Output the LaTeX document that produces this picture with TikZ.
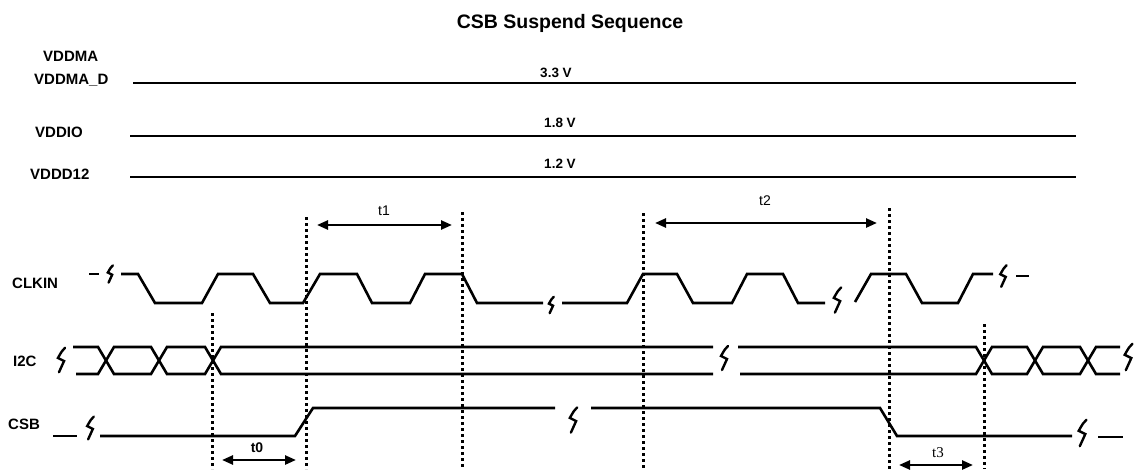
\documentclass[tikz,border=0pt]{standalone}
\usepackage{fontspec}
\setmainfont{Liberation Sans}
\newfontfamily\seriff{Liberation Serif}
\usetikzlibrary{arrows.meta}
\begin{document}
\begin{tikzpicture}[x=1pt,y=-1pt,
  rail/.style={line width=2.8pt},
  sig/.style={line width=2.6pt, line join=miter},
  guide/.style={line width=3pt, dash pattern=on 3pt off 3pt},
  dimarrow/.style={line width=2.4pt, {Triangle[length=11pt,width=9pt]}-{Triangle[length=11pt,width=9pt]}},
  lbl/.style={font=\bfseries\fontsize{15}{18}\selectfont, inner sep=0pt, anchor=base west},
  volt/.style={font=\bfseries\fontsize{13.5}{16}\selectfont, inner sep=0pt, anchor=base},
  tl/.style={font=\fontsize{14}{16}\selectfont, inner sep=0pt, anchor=base},
  brk/.pic={\draw[line width=2.4pt, line cap=round] (4,-12) .. controls (1,-9) .. (-3,-2) -- (3,1) .. controls (0,6) .. (-2,12);}
]
\useasboundingbox (0,0) rectangle (1141,469);

% title
\node[font=\bfseries\fontsize{19.5}{22}\selectfont, inner sep=0pt, anchor=base] (title) at (570,28) {CSB Suspend Sequence};

% supply labels
\node[lbl] (vddma) at (43,61.4) {VDDMA};
\node[lbl] (vddmad) at (34,84.4) {VDDMA\_D};
\node[lbl] (vddio) at (35,137.4) {VDDIO};
\node[lbl] (vddd) at (30,179.4) {VDDD12};
\node[lbl] (clkin) at (12,288) {CLKIN};
\node[lbl] (i2c) at (13,366) {I2C};
\node[lbl] (csb) at (8,429) {CSB};

% rails
\coordinate (r1a) at (133,83); \coordinate (r1b) at (1076,83);
\coordinate (r2a) at (130,136); \coordinate (r2b) at (1076,136);
\coordinate (r3a) at (130,177); \coordinate (r3b) at (1076,177);
\draw[rail] (r1a) -- (r1b);
\draw[rail] (r2a) -- (r2b);
\draw[rail] (r3a) -- (r3b);
\node[volt] (v33) at (556,77) {3.3 V};
\node[volt] (v18) at (560,127) {1.8 V};
\node[volt] (v12) at (560,168) {1.2 V};

% CLKIN
\draw[sig] (89,274) -- (99,274);
\pic[scale=0.72] at (110,274) {brk};
\draw[sig] (121,274) -- (138,274) -- (155,303) -- (202,303) -- (218,274) -- (253,274) -- (270,303) -- (303,303) -- (320,274) -- (357,274) -- (372,303) -- (410,303) -- (425,274) -- (462,274) -- (477,303) -- (543,303);
\pic[scale=0.68] at (551,305) {brk};
\draw[sig] (562,303) -- (627,303) -- (643,274) -- (677,274) -- (693,303) -- (732,303) -- (747,274) -- (783,274) -- (798,303) -- (825,303);
\pic[scale=1.05] at (837,300) {brk};
\draw[sig] (855,302) -- (871,274) -- (906,274) -- (922,303) -- (958,303) -- (973,274) -- (993,274);
\pic[scale=0.9] at (1003,276) {brk};
\draw[sig] (1016,276) -- (1029,276);

% I2C
\draw[sig] (73,347) -- (98,347) -- (114,374) -- (151,374) -- (167,347) -- (205,347) -- (221,374) -- (713,374);
\draw[sig] (76,374) -- (98,374) -- (114,347) -- (151,347) -- (167,374) -- (205,374) -- (221,347) -- (713,347);
\pic[scale=1.02] at (61,360) {brk};
\pic[scale=1.0] at (724,358) {brk};
\draw[sig] (738,347) -- (976,347) -- (992,374) -- (1027,374) -- (1043,347) -- (1080,347) -- (1096,374) -- (1120,374);
\draw[sig] (740,374) -- (976,374) -- (992,347) -- (1027,347) -- (1043,374) -- (1080,374) -- (1096,347) -- (1120,347);
\pic[scale=1.1] at (1128,357) {brk};

% CSB
\draw[sig] (53,436) -- (77,436);
\pic[scale=0.95] at (90,428) {brk};
\draw[sig] (100,436) -- (295,436) -- (313,408) -- (555,408);
\pic[scale=1.05] at (573,420) {brk};
\draw[sig] (591,408) -- (880,408) -- (897,436) -- (1072,436);
\pic[scale=1.1] at (1082,433) {brk};
\draw[sig] (1098,437) -- (1123,437);

% dotted guides
\coordinate (d1a) at (212,313); \coordinate (d1b) at (212,469);
\coordinate (d2a) at (306,217); \coordinate (d2b) at (306,469);
\coordinate (d3a) at (462,212); \coordinate (d3b) at (462,469);
\coordinate (d4a) at (643,213); \coordinate (d4b) at (643,469);
\coordinate (d5a) at (889,208); \coordinate (d5b) at (889,469);
\coordinate (d6a) at (984,324); \coordinate (d6b) at (984,469);
\draw[guide] (d1a) -- (d1b);
\draw[guide] (d2a) -- (d2b);
\draw[guide] (d3a) -- (d3b);
\draw[guide] (d4a) -- (d4b);
\draw[guide] (d5a) -- (d5b);
\draw[guide] (d6a) -- (d6b);

% timing arrows
\coordinate (t1a) at (317,225); \coordinate (t1b) at (452,225);
\coordinate (t2a) at (655,223); \coordinate (t2b) at (877,223);
\coordinate (t0a) at (222,460); \coordinate (t0b) at (296,460);
\coordinate (t3a) at (899,465); \coordinate (t3b) at (973,465);
\draw[dimarrow] (t1a) -- (t1b);
\draw[dimarrow] (t2a) -- (t2b);
\draw[dimarrow] (t0a) -- (t0b);
\draw[dimarrow] (t3a) -- (t3b);
\node[tl] (t1) at (384,215) {t1};
\node[tl] (t2) at (765,205) {t2};
\node[tl, font=\bfseries\fontsize{14}{16}\selectfont] (t0) at (257,452) {t0};
\node[tl, font=\seriff\fontsize{15}{17}\selectfont] (t3) at (938,457) {t3};
\end{tikzpicture}
\end{document}
